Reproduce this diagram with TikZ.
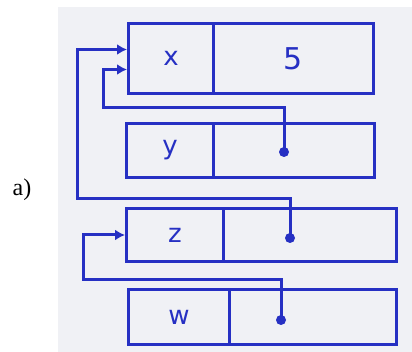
\documentclass[tikz,border=0pt]{standalone}
\usepackage{fontspec}
\setmainfont{Liberation Serif}
\newfontfamily\handfont{DejaVu Sans}
\usetikzlibrary{arrows.meta}
\definecolor{ink}{RGB}{38,48,195}
\definecolor{paper}{RGB}{240,241,245}
\begin{document}
\begin{tikzpicture}[x=1pt,y=-1pt,
  cell/.style={draw=ink, line width=3pt, rectangle, inner sep=0pt, anchor=north west,
    font=\handfont\fontsize{26}{28}\selectfont, text=ink},
  ptr/.style={draw=ink, line width=3pt, -{Latex[length=10pt,width=11pt]}},
  dotc/.style={circle, fill=ink, inner sep=0pt, minimum size=10pt}]
\useasboundingbox (0,0) rectangle (412,352);
\fill[paper] (58,7) rectangle (412,352);
\node[font=\fontsize{24}{26}\selectfont] (lab) at (22,190) {a)};
% boxes
\node[cell, minimum width=85pt, minimum height=70pt] (xn) at (127,22) {x};
\node[cell, minimum width=160pt, minimum height=70pt, font=\handfont\fontsize{30}{32}\selectfont] (xv) at (212,22) {5};
\node[cell, minimum width=87pt, minimum height=54pt] (yn) at (125,122) {y};
\node[cell, minimum width=161pt, minimum height=54pt] (yv) at (212,122) {};
\node[cell, minimum width=97pt, minimum height=53pt] (zn) at (125,207) {z};
\node[cell, minimum width=173pt, minimum height=53pt] (zv) at (222,207) {};
\node[cell, minimum width=101pt, minimum height=55pt] (wn) at (127,288) {w};
\node[cell, minimum width=167pt, minimum height=55pt] (wv) at (228,288) {};
% pointer dots
\node[dotc] (yd) at (284,152) {};
\node[dotc] (zd) at (290,238) {};
\node[dotc] (wd) at (281,320) {};
% pointers
\draw[ptr] (yd.center) -- ++(0,-44) -- ++(-181,0) |- ([yshift=-11pt]xn.west);
\draw[ptr] (zd.center) -- ++(0,-39) -- ++(-213,0) |- ([yshift=9pt]xn.west);
\draw[ptr] (wd.center) -- ++(0,-40) -- ++(-198,0) |- (zn.west);
\end{tikzpicture}
\end{document}
